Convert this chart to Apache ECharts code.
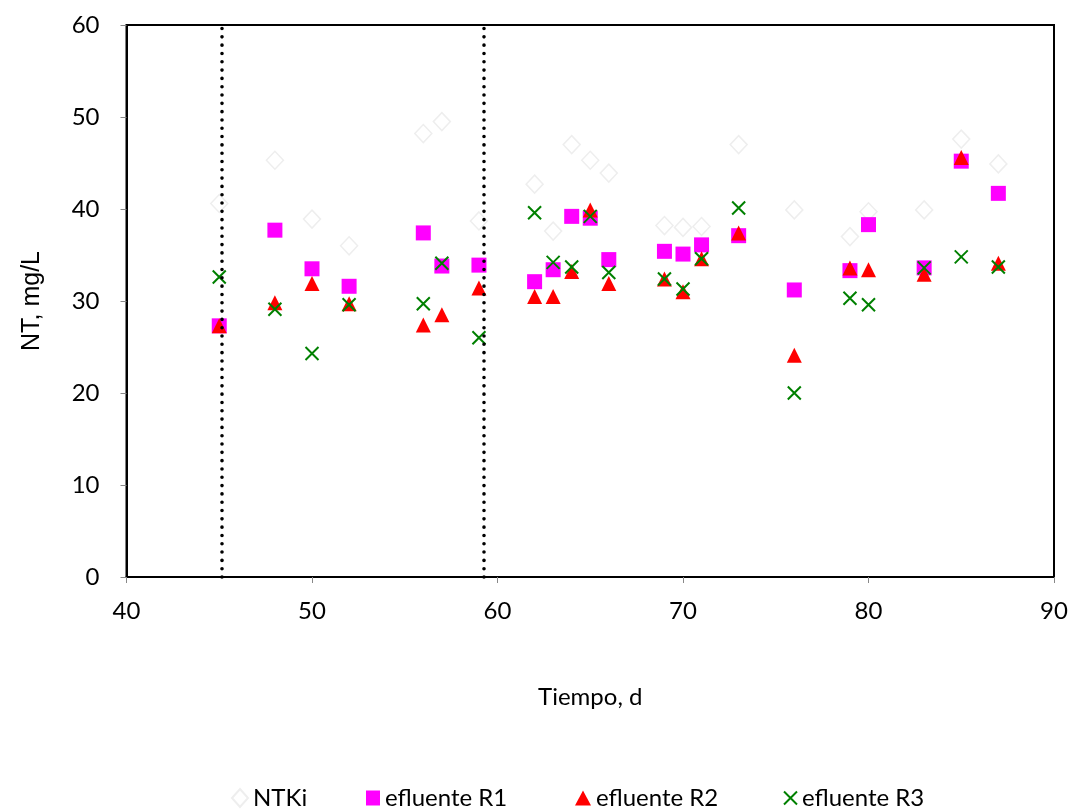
<!DOCTYPE html>
<html>
<head>
<meta charset="utf-8">
<script src="https://cdn.jsdelivr.net/npm/echarts@6/dist/echarts.min.js"></script>
<style>
  html, body { margin: 0; padding: 0; background: #fff; }
  #chart { width: 1071px; height: 809px; }
</style>
</head>
<body>
<div id="chart"></div>
<script>
// Sampling days
const dias = [45, 48, 50, 52, 56, 57, 59, 62, 63, 64, 65, 66, 69, 70, 71, 73, 76, 79, 80, 83, 85, 87];

// Total nitrogen, mg/L
const ntki       = [40.6, 45.3, 38.9, 36.0, 48.2, 49.5, 38.7, 42.7, 37.6, 47.0, 45.3, 43.9, 38.2, 38.0, 38.1, 47.0, 39.9, 37.0, 39.7, 39.9, 47.6, 44.9];
const efluenteR1 = [27.3, 37.7, 33.5, 31.6, 37.4, 33.8, 33.9, 32.1, 33.4, 39.2, 39.0, 34.5, 35.4, 35.1, 36.1, 37.1, 31.2, 33.3, 38.3, 33.6, 45.2, 41.7];
const efluenteR2 = [27.3, 29.8, 31.9, 29.7, 27.4, 28.5, 31.4, 30.5, 30.5, 33.2, 39.9, 31.9, 32.4, 31.0, 34.6, 37.4, 24.1, 33.6, 33.4, 32.9, 45.6, 34.1];
const efluenteR3 = [32.6, 29.1, 24.3, 29.6, 29.7, 34.1, 26.0, 39.6, 34.2, 33.7, 39.2, 33.1, 32.4, 31.3, 34.6, 40.1, 20.0, 30.3, 29.6, 33.6, 34.8, 33.7];

// Phase boundaries (days)
const limitesFase = [45.15, 59.25];

const nombres = ['NTKi', 'efluente R1', 'efluente R2', 'efluente R3'];
const xTicks = [40, 50, 60, 70, 80, 90];
const yTicks = [0, 10, 20, 30, 40, 50, 60];

const pares = (ys) => dias.map((d, i) => [d, ys[i]]);
const cruz = 'path://M0,0L10,10M0,10L10,0';
const fuente = 'Lato';

const chart = echarts.init(document.getElementById('chart'), null, { renderer: 'canvas' });

const leyenda = (nombre, left, w, h) => ({
  data: [nombre],
  left: left,
  top: 781,
  orient: 'horizontal',
  itemWidth: w,
  itemHeight: h,
  selectedMode: false,
  textStyle: { fontFamily: fuente, fontSize: 24, color: '#000' }
});

chart.setOption({
  animation: false,
  backgroundColor: '#fff',
  grid: {
    left: 126.5, top: 25, right: 17, bottom: 232,
    show: true, borderColor: '#000', borderWidth: 2, backgroundColor: 'transparent'
  },
  legend: [
    leyenda(nombres[0], 226, 16, 18),
    leyenda(nombres[1], 361, 14, 15),
    leyenda(nombres[2], 570, 16, 15),
    leyenda(nombres[3], 778, 13, 13)
  ],
  xAxis: {
    type: 'value',
    min: xTicks[0], max: xTicks[xTicks.length - 1], interval: 10,
    name: 'Tiempo, d',
    nameLocation: 'middle',
    nameGap: 108,
    nameTextStyle: { fontFamily: fuente, fontSize: 24, color: '#000' },
    axisLine: { show: true, onZero: false, lineStyle: { color: '#000', width: 2 } },
    axisTick: { show: true, length: 6, lineStyle: { color: '#888', width: 1 } },
    axisLabel: { margin: 22, fontFamily: fuente, fontSize: 24, color: '#000' },
    splitLine: { show: false }
  },
  yAxis: {
    type: 'value',
    min: yTicks[0], max: yTicks[yTicks.length - 1], interval: 10,
    name: 'NT, mg/L',
    nameLocation: 'middle',
    nameRotate: 90,
    nameGap: 82,
    nameTextStyle: { fontFamily: 'Liberation Sans', fontSize: 25, color: '#000' },
    axisLine: { show: true, lineStyle: { color: '#000', width: 2 } },
    axisTick: { show: true, length: 6, lineStyle: { color: '#888', width: 1 } },
    axisLabel: { margin: 27, fontFamily: fuente, fontSize: 24, color: '#000' },
    splitLine: { show: false }
  },
  series: [
    {
      name: nombres[0], type: 'scatter', data: pares(ntki),
      symbol: 'diamond', symbolSize: [17, 18],
      itemStyle: { color: '#fff', borderColor: '#eeeeee', borderWidth: 1.5, opacity: 1 },
      markLine: {
        silent: true, symbol: 'none', label: { show: false },
        lineStyle: { color: '#000', width: 3.6, type: [0.01, 8.3], cap: 'round' },
        data: limitesFase.map(v => ({ xAxis: v }))
      }
    },
    {
      name: nombres[1], type: 'scatter', data: pares(efluenteR1),
      symbol: 'rect', symbolSize: 15,
      itemStyle: { color: '#ff00ff', opacity: 1 }
    },
    {
      name: nombres[2], type: 'scatter', data: pares(efluenteR2),
      symbol: 'triangle', symbolSize: [15, 15],
      itemStyle: { color: '#ff0000', opacity: 1 }
    },
    {
      name: nombres[3], type: 'scatter', data: pares(efluenteR3),
      symbol: cruz, symbolSize: 13,
      itemStyle: { color: 'rgba(0,0,0,0)', borderColor: '#008000', borderWidth: 2, opacity: 1 }
    }
  ]
});
</script>
</body>
</html>
